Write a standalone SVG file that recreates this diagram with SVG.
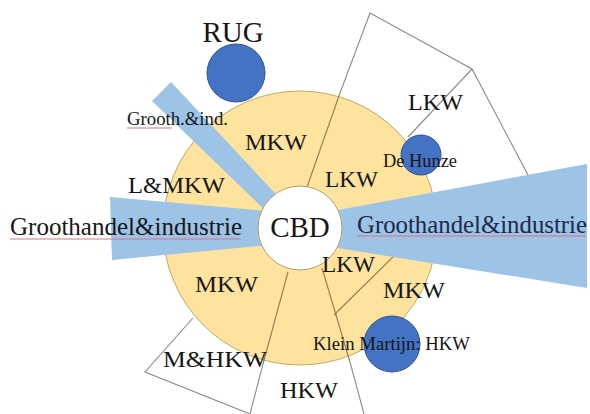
<svg xmlns="http://www.w3.org/2000/svg" width="590" height="414" viewBox="0 0 590 414">
<style>
text{font-family:"Liberation Serif","Times New Roman",serif;fill:#161616}
.band{fill:#9dc3e6}
.spot{fill:#4472c4;stroke:#2f528f;stroke-width:1}
.ln{stroke:#8a8a8a;stroke-width:1.1;fill:none}
.lnin{stroke:#8f7d4f;stroke-width:1.1;fill:none}
.ul{stroke:#e07080;stroke-width:1.2;fill:none}
.t24{font-size:24px}
</style>
<rect width="590" height="414" fill="#ffffff"/>
<g id="ring">
<circle cx="300" cy="228" r="137" fill="#fee39e" stroke="#c2a864" stroke-width="1"/>
</g>
<g id="connectors">
<polyline class="ln" points="340,93 370,13 472,69 528,175"/>
<line class="ln" x1="472" y1="69" x2="408" y2="137"/>
<line class="lnin" x1="307" y1="187" x2="340" y2="93"/>
<line class="lnin" x1="322" y1="268" x2="350" y2="362"/>
<line class="ln" x1="350" y1="362" x2="364" y2="414"/>
<line class="lnin" x1="334" y1="315" x2="397" y2="253"/>
<line class="lnin" x1="288" y1="272" x2="263" y2="364"/>
<line class="ln" x1="263" y1="364" x2="250" y2="414"/>
<polyline class="ln" points="193,318 145,372 250,414"/>
</g>
<g id="bands">
<polygon id="band-left" class="band" points="110,197 300,214 300,242 112,260"/>
<polygon id="band-right" class="band" points="300,217 587,164 587,288 300,242"/>
<polygon id="band-diag" class="band" points="152,101 171,82 287,206 270,215"/>
</g>
<g id="cbd">
<circle cx="300" cy="228" r="42" fill="#ffffff" stroke="#b59f68" stroke-width="1"/>
<text x="300" y="237" font-size="29" text-anchor="middle">CBD</text>
</g>
<g id="rug">
<circle class="spot" cx="236" cy="73" r="29"/>
<text x="233" y="42" font-size="29" text-anchor="middle">RUG</text>
</g>
<g id="dehunze">
<circle class="spot" cx="421" cy="155" r="20"/>
<text x="383" y="167" font-size="18" textLength="74" lengthAdjust="spacingAndGlyphs">De Hunze</text>
</g>
<g id="kleinmartijn">
<circle class="spot" cx="392" cy="344" r="28"/>
<text x="313" y="350" font-size="18.5" textLength="157" lengthAdjust="spacingAndGlyphs">Klein Martijn: HKW</text>
</g>
<g id="groothind-diag">
<text x="127" y="125" font-size="18" textLength="101" lengthAdjust="spacingAndGlyphs">Grooth.&amp;ind.</text>
<line class="ul" x1="127" y1="128" x2="172" y2="128"/>
</g>
<g id="groothandel-left">
<text x="10" y="235" font-size="25" textLength="232" lengthAdjust="spacingAndGlyphs">Groothandel&amp;industrie</text>
<line class="ul" x1="10" y1="239" x2="241" y2="239"/>
</g>
<g id="groothandel-right">
<text x="357" y="233" font-size="25" textLength="230" lengthAdjust="spacingAndGlyphs" style="fill:#1b2a48">Groothandel&amp;industrie</text>
<line class="ul" x1="357" y1="236" x2="586" y2="236"/>
</g>
<g id="mkw-top"><text class="t24" x="245" y="150" textLength="62" lengthAdjust="spacingAndGlyphs">MKW</text></g>
<g id="lmkw"><text class="t24" x="128" y="193" textLength="97" lengthAdjust="spacingAndGlyphs">L&amp;MKW</text></g>
<g id="lkw-inner-top"><text class="t24" x="325" y="187" textLength="53" lengthAdjust="spacingAndGlyphs">LKW</text></g>
<g id="lkw-outer"><text class="t24" x="408" y="110" textLength="55" lengthAdjust="spacingAndGlyphs">LKW</text></g>
<g id="lkw-inner-bottom"><text class="t24" x="322" y="272" textLength="53" lengthAdjust="spacingAndGlyphs">LKW</text></g>
<g id="mkw-right"><text class="t24" x="383" y="298" textLength="62" lengthAdjust="spacingAndGlyphs">MKW</text></g>
<g id="mkw-left"><text class="t24" x="195" y="292" textLength="63" lengthAdjust="spacingAndGlyphs">MKW</text></g>
<g id="mhkw"><text class="t24" x="163" y="367" textLength="104" lengthAdjust="spacingAndGlyphs">M&amp;HKW</text></g>
<g id="hkw"><text class="t24" x="280" y="398" textLength="58" lengthAdjust="spacingAndGlyphs">HKW</text></g>
</svg>
